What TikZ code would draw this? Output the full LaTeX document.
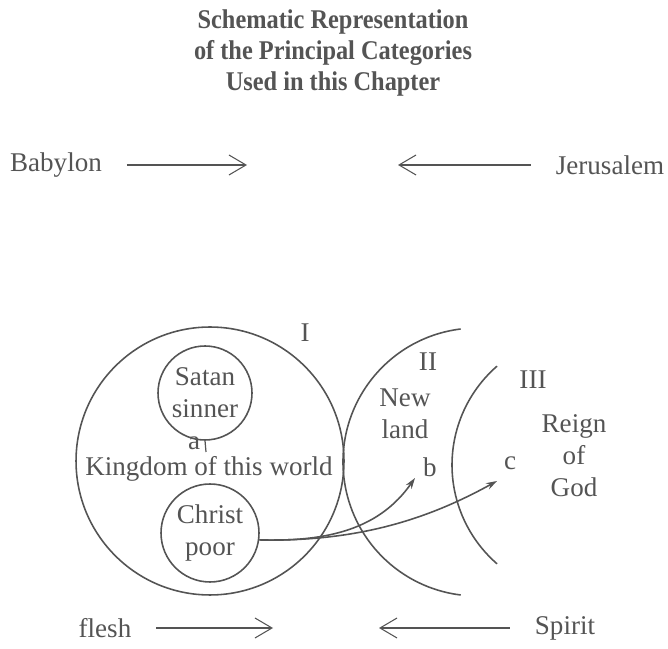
\documentclass[tikz,border=0pt]{standalone}
\usepackage{fontspec}
\setmainfont{Liberation Serif}
\newfontfamily\titlefont[FakeStretch=0.9]{Liberation Serif}
\usetikzlibrary{arrows.meta}
\definecolor{ink}{gray}{0.33}
\begin{document}
\begin{tikzpicture}[x=0.02cm,y=0.02cm,ink,line width=0.9pt,
  txt/.style={inner sep=1pt,font=\fontsize{15.4}{18.2}\selectfont,align=center},
  ring/.style={draw,circle,inner sep=0pt},
  flow/.style={-{Straight Barb[length=0.34cm,width=0.4cm]},line width=0.6pt},
  reach/.style={-{Stealth[length=0.22cm,width=0.14cm]}}]
\useasboundingbox (0,0) rectangle (668,648);
\node[font=\titlefont\bfseries\fontsize{15.4}{17.9}\selectfont,align=center] (title) at (333,595)
  {Schematic Representation\\of the Principal Categories\\Used in this Chapter};
% the two cities
\node[txt] (babylon) at (56,483) {Babylon};
\node[txt] (jerusalem) at (610,483) {Jerusalem};
\coordinate (babtip) at (247,483);
\coordinate (jertip) at (398,483);
\draw[flow,shorten <=0.45cm] (babylon) -- (babtip);
\draw[flow,shorten <=0.45cm] (jerusalem) -- (jertip);
% I
\node[ring,minimum size=5.36cm] (world) at (210,187) {};
\node[txt] (one) at (305,315) {I};
\node[ring,minimum size=1.88cm,txt] (satan) at (205,255) {Satan\\sinner};
\node[ring,minimum size=1.96cm,txt] (christ) at (210,115) {Christ\\poor};
\node[txt] (kingdom) at (209,179) {Kingdom of this world};
\node[txt,inner sep=0pt] (a) at (194,205) {a};
\coordinate (atick) at (206,196);
\draw[line width=0.7pt] (satan.south) -- (atick);
% II and III
\draw (477,186) ++(97:134) arc[start angle=97,end angle=263,radius=134];
\draw (583,183) ++(131:131) arc[start angle=131,end angle=229,radius=131];
\node[txt] (two) at (428,286) {II};
\node[txt] (three) at (533,268) {III};
\node[txt] (newland) at (405,234) {New\\land};
\node[txt] (reign) at (574,192) {Reign\\of\\God};
\node[txt] (b) at (430,181) {b};
\node[txt] (c) at (510,185) {c};
\coordinate (btip) at (415,170);
\coordinate (ctip) at (497,167);
\draw[reach] (christ.-8) .. controls (330,106) and (380,120) .. (btip);
\draw[reach] (christ.-8) .. controls (360,106) and (430,130) .. (ctip);
% flesh and Spirit
\node[txt] (flesh) at (105,20) {flesh};
\node[txt] (spirit) at (565,20) {Spirit};
\coordinate (fleshtip) at (273,20);
\coordinate (spirittip) at (379,20);
\draw[flow,shorten <=0.45cm] (flesh) -- (fleshtip);
\draw[flow,shorten <=0.45cm] (spirit) -- (spirittip);
\end{tikzpicture}
\end{document}
